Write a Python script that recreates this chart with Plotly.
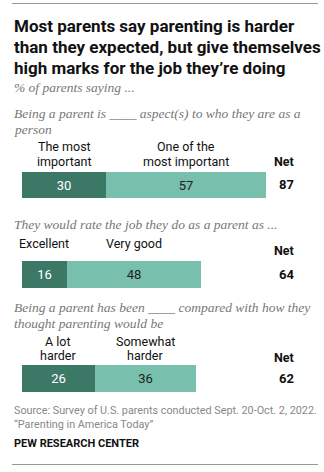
import plotly.graph_objects as go

# ---- data ----
questions = [
    ["Being a parent is ____ aspect(s) to who they are as a", "person"],
    ["They would rate the job they do as a parent as ..."],
    ["Being a parent has been ____ compared with how they", "thought parenting would be"],
]
cat_first = [["The most", "important"], ["Excellent"], ["A lot", "harder"]]
cat_second = [["One of the", "most important"], ["Very good"], ["Somewhat", "harder"]]
val_first = [30, 16, 26]
val_second = [57, 48, 36]
net = [87, 64, 62]

title_lines = ["Most parents say parenting is harder",
               "than they expected, but give themselves",
               "high marks for the job they’re doing"]
subtitle = "% of parents saying ..."
source_lines = ["Source: Survey of U.S. parents conducted Sept. 20-Oct. 2, 2022.",
                "“Parenting in America Today”"]
brand = "PEW RESEARCH CENTER"

# ---- styling / layout ----
W, H = 324, 472
PXU = 2.8          # pixels per percentage point
X0 = 22            # pixel position of 0
DARK = "#3c7866"
LIGHT = "#78bfad"
SANS = "Roboto"
SERIF = "Liberation Serif"

bar_px = [(172, 198), (261, 288), (365, 392)]
title_y = [26, 47, 68]
q_y = [[113, 129], [224], [307, 323]]
lab_y = [[147, 161], [244], [341, 355]]
net_y = [161, 250, 357]
source_y = [410, 424]


def py(p):
    return 1 - p / H


def px(p):
    return p / W


def txt(s, x, y, font, xref="paper", xanchor="left"):
    return dict(text=s, x=x, y=y, xref=xref, yref="paper", xanchor=xanchor,
                yanchor="middle", align="left", showarrow=False, font=font)


fig = go.Figure()
layout_axes = {}
for i in range(3):
    yname = "y" if i == 0 else f"y{i+1}"
    fig.add_trace(go.Bar(x=[val_first[i]], y=[0], orientation="h",
                         marker=dict(color=DARK, line=dict(width=0)),
                         xaxis="x", yaxis=yname, hoverinfo="skip",
                         text=[str(val_first[i])], textposition="inside",
                         insidetextanchor="middle",
                         textfont=dict(color="white", size=13, family=SANS)))
    fig.add_trace(go.Bar(x=[val_second[i]], y=[0], orientation="h",
                         marker=dict(color=LIGHT, line=dict(width=0)),
                         xaxis="x", yaxis=yname, hoverinfo="skip",
                         text=[str(val_second[i])], textposition="inside",
                         insidetextanchor="middle",
                         textfont=dict(color="#222", size=13, family=SANS)))
    top, bot = bar_px[i]
    key = "yaxis" if i == 0 else f"yaxis{i+1}"
    layout_axes[key] = dict(domain=[py(bot), py(top)], range=[-0.5, 0.5],
                            visible=False, fixedrange=True, anchor="x")

annotations = []
tfont = dict(family=SANS, size=17, color="#111")
for line, yy in zip(title_lines, title_y):
    annotations.append(txt(f"<b>{line}</b>", px(12), py(yy), tfont))
sfont = dict(family=SERIF, size=13.5, color="#777")
annotations.append(txt(f"<i>{subtitle}</i>", px(12), py(87), sfont))
lfont = dict(family=SANS, size=12.5, color="#111")
for i in range(3):
    for line, yy in zip(questions[i], q_y[i]):
        annotations.append(txt(f"<i>{line}</i>", px(12), py(yy), sfont))
    for line, yy in zip(cat_first[i], lab_y[i]):
        annotations.append(txt(line, val_first[i] / 2, py(yy), lfont, xref="x", xanchor="center"))
    for line, yy in zip(cat_second[i], lab_y[i]):
        annotations.append(txt(line, val_first[i] + val_second[i] / 2, py(yy), lfont,
                               xref="x", xanchor="center"))
    annotations.append(txt("<b>Net</b>", px(296), py(net_y[i]), lfont, xanchor="right"))
    annotations.append(txt(f"<b>{net[i]}</b>", px(296), py((bar_px[i][0] + bar_px[i][1]) / 2),
                           dict(family=SANS, size=13, color="#111"), xanchor="right"))
srcfont = dict(family=SANS, size=10.8, color="#888")
for line, yy in zip(source_lines, source_y):
    annotations.append(txt(line, px(12), py(yy), srcfont))
annotations.append(txt(f"<b>{brand}</b>", px(12), py(443), dict(family=SANS, size=11, color="#111")))

shapes = [
    dict(type="line", xref="paper", yref="paper", x0=px(12), x1=px(318), y0=py(3.5), y1=py(3.5),
         line=dict(color="#999", width=1)),
    dict(type="line", xref="paper", yref="paper", x0=px(12), x1=px(318), y0=py(464.5), y1=py(464.5),
         line=dict(color="#999", width=1)),
]

fig.update_layout(
    width=W, height=H, margin=dict(l=0, r=0, t=0, b=0),
    paper_bgcolor="white", plot_bgcolor="white",
    barmode="stack", bargap=0, showlegend=False,
    xaxis=dict(range=[-X0 / PXU, (W - X0) / PXU], visible=False, fixedrange=True, domain=[0, 1]),
    annotations=annotations, shapes=shapes,
    **layout_axes,
)

fig.write_html("out.html", config={"displayModeBar": False})
